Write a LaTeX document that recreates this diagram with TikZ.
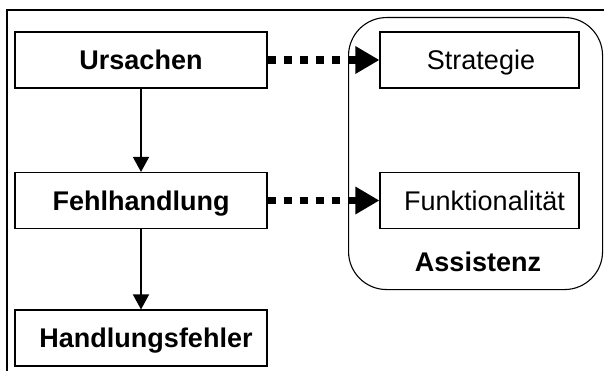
\documentclass[tikz,border=0pt]{standalone}
\usepackage{fontspec}
\setmainfont{Liberation Sans}
\usetikzlibrary{arrows.meta}
\begin{document}
\begin{tikzpicture}[x=1pt,y=-1pt,
  txt/.style={font=\fontsize{27}{30}\selectfont, text height=19.3pt, text depth=0pt, inner sep=0pt},
  box/.style={txt, draw, line width=1.1pt, minimum width=252pt, minimum height=56pt},
  lbox/.style={box, font=\fontsize{27}{30}\selectfont\bfseries},
  rbox/.style={box, minimum width=199pt},
  flow/.style={line width=1.6pt, -{Triangle[length=15pt,width=16pt]}},
  assist/.style={line width=7.5pt, dash pattern=on 8pt off 8pt, -{Triangle[length=24pt,width=26pt]}}
]
\useasboundingbox (0,0) rectangle (604,371);
\draw[line width=1.1pt] (7,380) -- (7,10) -- (620,10);
\node[draw, line width=1.1pt, rounded corners=38pt, minimum width=254pt, minimum height=272pt, anchor=north west] (asz) at (348,17) {};
\node[lbox] (urs) at (141,60) {Ursachen};
\node[lbox] (feh) at (141,200.5) {Fehlhandlung};
\node[lbox] (hf) at (141,338) {\hspace*{10pt}Handlungsfehler};
\node[rbox] (str) at (479.5,60) {\hspace*{3pt}Strategie};
\node[rbox] (fun) at (479.5,200.5) {\hspace*{10pt}Funktionalität};
\node[txt, font=\fontsize{27}{30}\selectfont\bfseries] (lbl) at (478,262) {Assistenz};
\draw[flow] (urs) -- (feh);
\draw[flow] (feh) -- (hf);
\draw[assist] (urs.east) -- (str.west);
\draw[assist] (feh.east) -- (fun.west);
\end{tikzpicture}
\end{document}
